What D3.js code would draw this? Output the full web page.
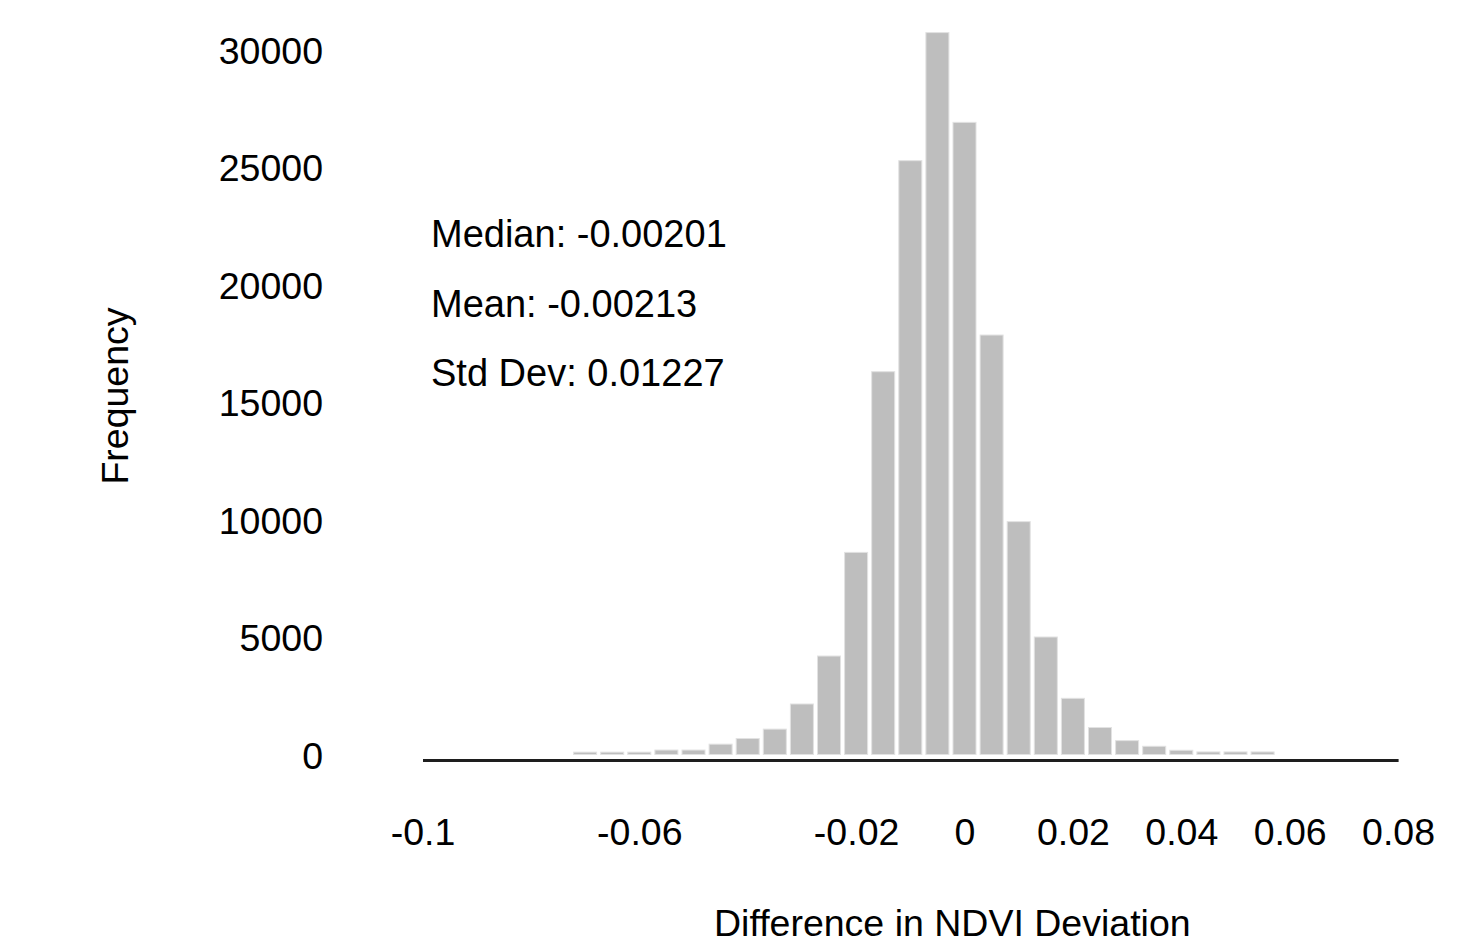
<!DOCTYPE html>
<html>

<head>
  <title>Difference in NDVI Deviation</title>
  <meta charset="utf-8">
</head>
<style>
  body {
    margin: 0;
    background: #fff;
  }

  text {
    font-family: "Liberation Sans", Arial, Helvetica, sans-serif;
    fill: #000;
  }

  .bar {
    fill: #bebebe;
    stroke: #e2e2e2;
    stroke-width: 1;
  }

  .axis--y path {
    display: none;
  }
</style>

<body>
  <svg width="1458" height="947"></svg>
  <script src="https://cdn.jsdelivr.net/npm/d3@7"></script>
  <script>
    // bin centres (width 0.005) and counts
    var binCentres = [-0.07, -0.065, -0.06, -0.055, -0.05, -0.045, -0.04, -0.035, -0.03, -0.025,
      -0.02, -0.015, -0.01, -0.005, 0, 0.005, 0.01, 0.015, 0.02, 0.025,
      0.03, 0.035, 0.04, 0.045, 0.05, 0.055];
    var counts = [100, 100, 100, 190, 190, 440, 680, 1080, 2150, 4190,
      8600, 16290, 25270, 30720, 26900, 17850, 9910, 5000, 2390, 1150,
      590, 350, 180, 110, 110, 110];
    var binWidth = 0.005;

    var xTickValues = [-0.1, -0.06, -0.02, 0, 0.02, 0.04, 0.06, 0.08];
    var xTickLabels = ["-0.1", "-0.06", "-0.02", "0", "0.02", "0.04", "0.06", "0.08"];
    var yTickValues = [0, 5000, 10000, 15000, 20000, 25000, 30000];

    var stats = ["Median: -0.00201", "Mean: -0.00213", "Std Dev: 0.01227"];

    var svg = d3.select("svg"),
      fontSize = 37.5;

    var x = d3.scaleLinear().domain([-0.1, 0.08]).range([422.5, 1398.1]),
      y = d3.scaleLinear().domain([0, 30000]).range([754.5, 49.5]);

    var data = binCentres.map(function(c, i) {
      return { centre: c, count: counts[i] };
    });

    var barW = (x(binWidth) - x(0)) * 0.85;

    svg.selectAll(".bar")
      .data(data)
      .enter().append("rect")
      .attr("class", "bar")
      .attr("x", function(d) { return x(d.centre) - barW / 2; })
      .attr("y", function(d) { return y(d.count); })
      .attr("width", barW)
      .attr("height", function(d) { return y(0) - y(d.count); });

    // x axis: heavy baseline, no ticks
    var xAxis = svg.append("g")
      .attr("class", "axis axis--x")
      .attr("transform", "translate(0," + (y(0) + 5.5) + ")")
      .call(d3.axisBottom(x)
        .tickValues(xTickValues)
        .tickFormat(function(d, i) { return xTickLabels[i]; })
        .tickSize(0)
        .tickPadding(58));
    xAxis.select(".domain")
      .attr("stroke", "#1e1e1e")
      .attr("stroke-width", 3);
    xAxis.selectAll("text")
      .style("font-size", fontSize + "px")
      .attr("fill", "#000");

    var yAxis = svg.append("g")
      .attr("class", "axis axis--y")
      .attr("transform", "translate(323,0)")
      .call(d3.axisLeft(y)
        .tickValues(yTickValues)
        .tickFormat(d3.format("d"))
        .tickSize(0)
        .tickPadding(0));
    yAxis.selectAll("text")
      .style("font-size", fontSize + "px")
      .attr("fill", "#000")
      .attr("dy", "0.36em");

    // axis titles
    svg.append("text")
      .attr("x", (x(-0.1) + x(0.08)) / 2 + 42)
      .attr("y", 936)
      .attr("text-anchor", "middle")
      .style("font-size", fontSize + "px")
      .text("Difference in NDVI Deviation");

    svg.append("text")
      .attr("transform", "translate(128,396) rotate(-90)")
      .attr("text-anchor", "middle")
      .style("font-size", fontSize + "px")
      .text("Frequency");

    // summary statistics
    svg.selectAll(".stat")
      .data(stats)
      .enter().append("text")
      .attr("class", "stat")
      .attr("x", 431)
      .attr("y", function(d, i) { return 247 + i * 69.5; })
      .style("font-size", "38px")
      .text(function(d) { return d; });
  </script>
</body>

</html>
